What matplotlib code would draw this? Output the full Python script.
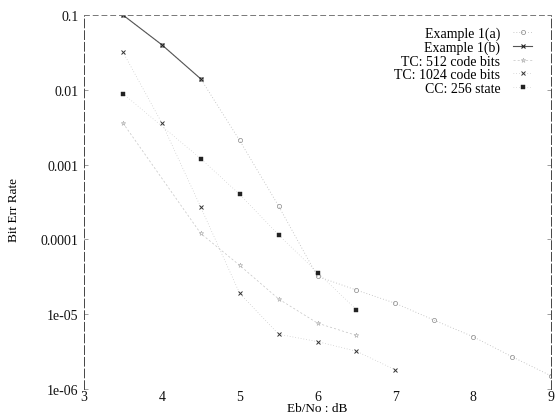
import matplotlib
matplotlib.use("Agg")
import matplotlib.pyplot as plt

# ---- data ----
ex1a_x = [3.5, 4.0, 4.5, 5.0, 5.5, 6.0, 6.5, 7.0, 7.5, 8.0, 8.5, 9.0]
ex1a_y = [0.1, 0.04, 0.014, 0.0021, 2.8e-4, 3.2e-5, 2.1e-5, 1.4e-5, 8.3e-6, 5.0e-6, 2.7e-6, 1.5e-6]

ex1b_x = [3.5, 4.0, 4.5]
ex1b_y = [0.1, 0.04, 0.014]

tc512_x = [3.5, 4.5, 5.0, 5.5, 6.0, 6.5]
tc512_y = [0.0036, 1.2e-4, 4.5e-5, 1.6e-5, 7.6e-6, 5.2e-6]

tc1024_x = [3.5, 4.0, 4.5, 5.0, 5.5, 6.0, 6.5, 7.0]
tc1024_y = [0.032, 0.0036, 2.7e-4, 1.9e-5, 5.4e-6, 4.3e-6, 3.2e-6, 1.8e-6]

cc256_x = [3.5, 4.5, 5.0, 5.5, 6.0, 6.5]
cc256_y = [0.0089, 0.0012, 4.0e-4, 1.15e-4, 3.6e-5, 1.15e-5]

x_ticks = [3, 4, 5, 6, 7, 8, 9]
y_ticks = [0.1, 0.01, 0.001, 0.0001, 1e-05, 1e-06]
y_tick_labels = ["0.1", "0.01", "0.001", "0.0001", "1e-05", "1e-06"]

plt.rcParams['font.family'] = ['Liberation Serif', 'DejaVu Serif']

fig = plt.figure(figsize=(5.58, 4.14), dpi=100)
ax = fig.add_axes([84 / 558, 1 - 390 / 414, 467 / 558, 374 / 414])

ax.plot(ex1a_x, ex1a_y, linestyle=(0, (1, 2.5)), color='#b8b8b8', lw=0.6,
        marker='o', ms=3, mfc='none', mec='#888888', mew=0.5, label='Example 1(a)')
ax.plot(ex1b_x, ex1b_y, linestyle='-', color='#555555', lw=0.8,
        marker='x', ms=3.5, mec='#222222', mew=0.8, label='Example 1(b)')
ax.plot(tc512_x, tc512_y, linestyle=(0, (3, 3)), color='#c4c4c4', lw=0.5,
        marker='*', ms=3.5, mfc='none', mec='#aaaaaa', mew=0.4, label='TC: 512 code bits')
ax.plot(tc1024_x, tc1024_y, linestyle=(0, (1, 3)), color='#bbbbbb', lw=0.5,
        marker='x', ms=2.5, mec='#333333', mew=0.7, label='TC: 1024 code bits')
ax.plot(cc256_x, cc256_y, linestyle=(0, (1, 3)), color='#c4c4c4', lw=0.5,
        marker='s', ms=2.2, mfc='#222222', mec='#222222', mew=0.3, label='CC: 256 state')

ax.set_yscale('log')
ax.set_xlim(3, 9)
ax.set_ylim(1e-6, 0.1)
ax.set_xticks(x_ticks)
ax.set_xticklabels([str(t) for t in x_ticks])
ax.set_yticks(y_ticks)
ax.set_yticklabels(y_tick_labels)
ax.minorticks_off()
ax.tick_params(axis='both', direction='in', length=3, width=0.5, colors='#777777',
               labelcolor='#111111', labelsize=10, top=False, right=True)
ax.tick_params(axis='x', pad=1.0, bottom=False)
ax.tick_params(axis='y', pad=4)

for side, sp in ax.spines.items():
    sp.set_color('#444444')
    sp.set_linewidth(0.7)
    sp.set_linestyle((0, (9, 3)))
ax.spines['bottom'].set_visible(False)
ax.spines['top'].set_color('#777777')
ax.spines['top'].set_linestyle((0, (5, 4)))

ax.set_xlabel('Eb/No : dB', fontsize=9.5)
ax.xaxis.set_label_coords(0.5, -0.036)
ax.set_ylabel('Bit Err Rate', fontsize=9.5)
ax.yaxis.set_label_coords(-0.137, 0.481)

leg = ax.legend(loc='upper right', frameon=False, markerfirst=False,
                fontsize=10, handlelength=1.4, handletextpad=0.9,
                labelspacing=0.05, borderaxespad=0.0,
                bbox_to_anchor=(0.972, 0.985))
for t in leg.get_texts():
    t.set_ha('right')

fig.savefig('out.png', dpi=100)
